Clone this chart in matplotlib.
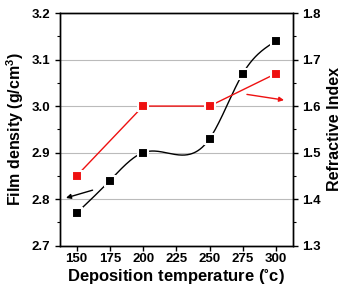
import numpy as np
import matplotlib.pyplot as plt

plt.rcParams['font.family'] = ['Liberation Sans', 'DejaVu Sans']
plt.rcParams['font.weight'] = 'bold'
plt.rcParams['mathtext.default'] = 'regular'

temp_density = [150, 175, 200, 250, 275, 300]
density = [2.77, 2.84, 2.90, 2.93, 3.07, 3.14]
temp_index = [150, 200, 250, 300]
ref_index = [1.45, 1.60, 1.60, 1.67]
xticks = [150, 175, 200, 225, 250, 275, 300]


def natural_spline(x, y, n=300):
    # natural cubic spline, used only to draw the smooth connecting line
    x = np.asarray(x, float)
    y = np.asarray(y, float)
    k = len(x)
    h = np.diff(x)
    A = np.zeros((k, k))
    b = np.zeros(k)
    A[0, 0] = A[-1, -1] = 1
    for i in range(1, k - 1):
        A[i, i - 1] = h[i - 1]
        A[i, i] = 2 * (h[i - 1] + h[i])
        A[i, i + 1] = h[i]
        b[i] = 6 * ((y[i + 1] - y[i]) / h[i] - (y[i] - y[i - 1]) / h[i - 1])
    m = np.linalg.solve(A, b)
    xs = np.linspace(x[0], x[-1], n)
    idx = np.clip(np.searchsorted(x, xs) - 1, 0, k - 2)
    x0, x1 = x[idx], x[idx + 1]
    hh = x1 - x0
    t0, t1 = x1 - xs, xs - x0
    ys = (m[idx] * t0 ** 3 + m[idx + 1] * t1 ** 3) / (6 * hh) \
        + (y[idx] / hh - m[idx] * hh / 6) * t0 \
        + (y[idx + 1] / hh - m[idx + 1] * hh / 6) * t1
    return xs, ys


fig = plt.figure(figsize=(3.44, 2.87), dpi=100)
ax = fig.add_axes([0.1744, 0.1439, 0.6766, 0.8108])
ax2 = ax.twinx()

for y in [2.8, 2.9, 3.0, 3.1]:
    ax.axhline(y, color='#bbbbbb', lw=0.8, zorder=0)

xs, ys = natural_spline(temp_density, density)
ax.plot(xs, ys, color='black', lw=1.0, zorder=2)
ax.plot(temp_density, density, 's', color='black', ms=6.5, mec='white', mew=1.5, zorder=3)

ax2.plot(temp_index, ref_index, '-', color='#ee1111', lw=1.0, zorder=2)
ax2.plot(temp_index, ref_index, 's', color='#ee1111', ms=6.5, mec='white', mew=1.5, zorder=3)

ax.annotate('', xy=(140, 2.801), xytext=(164, 2.821),
            arrowprops=dict(arrowstyle='-|>', color='black', lw=1.0, mutation_scale=7))
ax2.annotate('', xy=(308, 1.612), xytext=(276, 1.626),
             arrowprops=dict(arrowstyle='-|>', color='#ee1111', lw=1.0, mutation_scale=7))

ax.set_xlim(137.5, 312.5)
ax.set_ylim(2.7, 3.2)
ax2.set_ylim(1.3, 1.8)
ax.set_xticks(xticks)
ax.set_yticks([2.7, 2.8, 2.9, 3.0, 3.1, 3.2])
ax.set_yticks(np.arange(2.75, 3.2, 0.1), minor=True)
ax2.set_yticks([1.3, 1.4, 1.5, 1.6, 1.7, 1.8])
ax2.set_yticks(np.arange(1.35, 1.8, 0.1), minor=True)

for a in (ax, ax2):
    a.tick_params(which='major', direction='out', length=3.5, width=1, labelsize=9.5)
    a.tick_params(which='minor', direction='out', length=2, width=0.8)
    for s in a.spines.values():
        s.set_linewidth(1.0)
ax.tick_params(axis='x', pad=2)

ax.set_xlabel(r'Deposition temperature ($^{\circ}$c)', fontsize=12, fontweight='bold', labelpad=1)
ax.set_ylabel(r'Film density (g/cm$^\mathregular{3}$)', fontsize=11.5, fontweight='bold', labelpad=4)
ax2.set_ylabel('Refractive Index', fontsize=11.5, fontweight='bold', labelpad=4)

fig.savefig('out.png', dpi=100)
